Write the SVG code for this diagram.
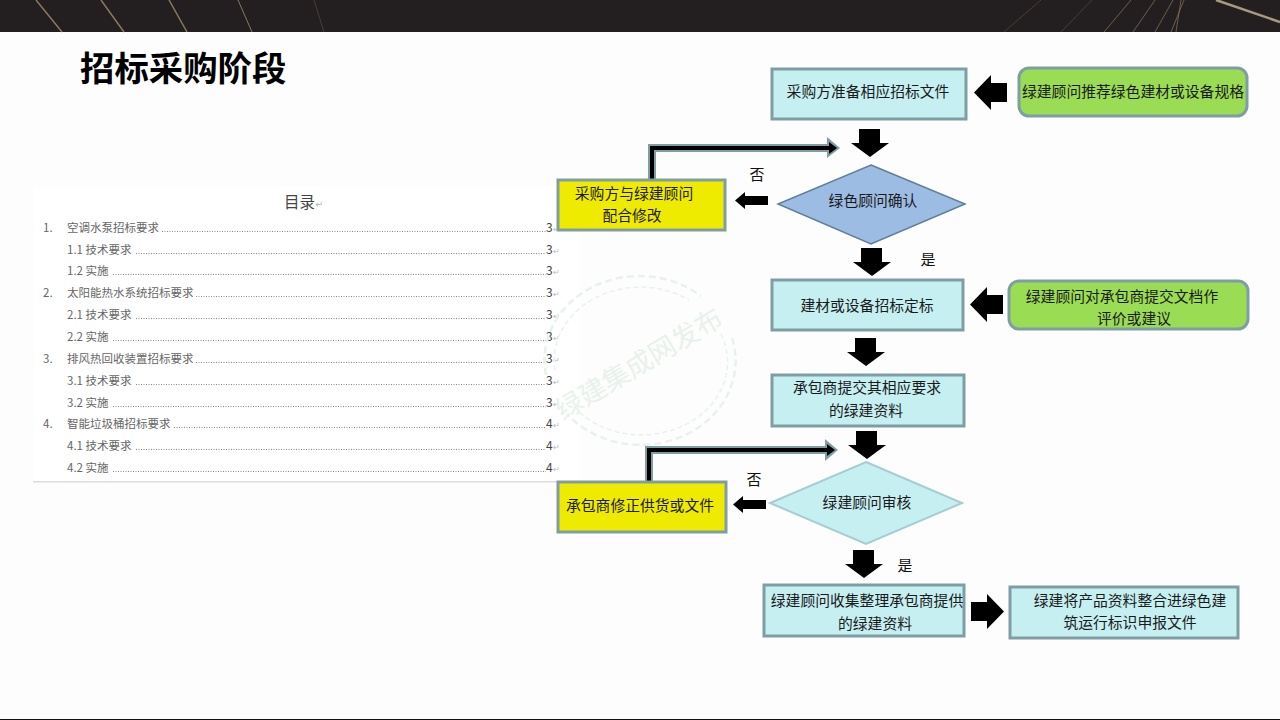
<svg xmlns="http://www.w3.org/2000/svg" xmlns:xlink="http://www.w3.org/1999/xlink" width="1280" height="720" viewBox="0 0 1280 720">
<style>
text{font-family:"Noto Sans CJK SC","Noto Sans",sans-serif}
.n{font-size:14.8px;fill:#1a1a1a;text-anchor:middle}
.l{font-size:15px;fill:#111;text-anchor:middle}
.box{fill:#c6eff2;stroke:#7f9ea3;stroke-width:3}
.yel{fill:#eeea00;stroke:#7f9ea3;stroke-width:3}
.grn{fill:#9bdc55;stroke:#7f9ea3;stroke-width:3}
.toc{font-size:11.5px;fill:#666}
.num{font-family:"Liberation Sans",sans-serif;font-size:12px;fill:#444}
.ret{font-family:"DejaVu Sans",sans-serif;font-size:8px;fill:#bbb}
.dots{stroke:#888;stroke-width:1;stroke-dasharray:1 1.500;fill:none}
.halo{fill:none;stroke:#7f9ea3;stroke-width:8}
.core{fill:none;stroke:#000;stroke-width:4}
.gold{stroke:#8a7a5c;fill:none}
.wm{fill:none;stroke:#e8f2ea}
</style>
<defs>
<polygon id="down" points="8,0 29,0 29,14 38,14 19,28 0,14 8,14"/>
<polygon id="left" points="0,17.5 17,0 17,8 33,8 33,27 17,27 17,35"/>
<polygon id="lsm" points="0,8.5 10,0 10,4 33,4 33,13 10,13 10,17"/>
</defs>
<rect width="1280" height="720" fill="#fdfdfd"/>
<g id="header">
<rect width="1280" height="32" fill="#231f20"/>
<path class="gold" stroke-width="1.5" d="M36 0L62 32M101 0L124 32M169 0L187 32"/>
<path class="gold" stroke-width="1" d="M238 0L252 32"/>
<path class="gold" stroke-width="1" opacity=".35" d="M314 0L324 32M1041 0L1004 32M1092 0L1061 32"/>
<path class="gold" stroke-width="1" opacity=".7" d="M1131 0L1104 32M1155 0L1133 32M1173 0L1155 32M1184 0L1171 32M1181 0L1176 32"/>
<path stroke="#a89a80" stroke-width="2.5" fill="none" d="M1216 0L1280 22"/>
</g>
<rect y="719" width="1280" height="1" fill="#111"/>
<text x="80" y="81" font-size="34.4" font-weight="700" fill="#000">招标采购阶段</text>

<g id="toc">
<rect x="33" y="187" width="547" height="294" fill="#fff"/>
<rect x="33" y="481" width="547" height="1.5" fill="#ddd"/>
<text x="284" y="208" font-size="15.5" fill="#444">目录</text><text x="315" y="208" class="ret" style="font-size:10px">↵</text>
<g class="toc">
<text x="43" y="232">1.</text><text x="67" y="232">空调水泵招标要求</text>
<text x="67" y="254">1.1 技术要求</text>
<text x="67" y="275">1.2 实施</text>
<text x="43" y="297">2.</text><text x="67" y="297">太阳能热水系统招标要求</text>
<text x="67" y="319">2.1 技术要求</text>
<text x="67" y="341">2.2 实施</text>
<text x="43" y="363">3.</text><text x="67" y="363">排风热回收装置招标要求</text>
<text x="67" y="385">3.1 技术要求</text>
<text x="67" y="407">3.2 实施</text>
<text x="43" y="428">4.</text><text x="67" y="428">智能垃圾桶招标要求</text>
<text x="67" y="450">4.1 技术要求</text>
<text x="67" y="472">4.2 实施</text>
</g>
<path class="dots" d="M162 231.500H546M136 253.500H546M113 274.500H546M196 296.500H546M136 318.500H546M113 340.500H546M196 362.500H546M136 384.500H546M113 406.500H546M174 427.500H546M136 449.500H546M113 471.500H546"/>
<g class="num">
<text x="546" y="232">3</text><text x="546" y="254">3</text><text x="546" y="275">3</text><text x="546" y="297">3</text><text x="546" y="319">3</text><text x="546" y="341">3</text><text x="546" y="363">3</text><text x="546" y="385">3</text><text x="546" y="407">3</text><text x="546" y="428">4</text><text x="546" y="450">4</text><text x="546" y="472">4</text>
</g>
<g class="ret">
<text x="553" y="232">↵</text><text x="553" y="254">↵</text><text x="553" y="275">↵</text><text x="553" y="297">↵</text><text x="553" y="319">↵</text><text x="553" y="341">↵</text><text x="553" y="363">↵</text><text x="553" y="385">↵</text><text x="553" y="407">↵</text><text x="553" y="428">↵</text><text x="553" y="450">↵</text><text x="553" y="472">↵</text>
</g>
</g>

<g id="watermark">
<path class="wm" stroke-width="2.500" stroke-dasharray="7 4" d="M732 338A95 84 0 0 1 567 414M546 375A95 84 0 0 1 701 296"/>
<path class="wm" stroke-width="1.500" stroke-dasharray="5 3" d="M721 334A86 73 0 0 1 579 412M555 370A86 73 0 0 1 689 300"/>
<text x="644" y="372" transform="rotate(-31 644 372)" font-size="27" fill="#e8f2ea" text-anchor="middle">绿建集成网发布</text>
</g>

<g id="connectors">
<g id="fb1"><path class="halo" d="M652 180V148H828"/><path fill="#7f9ea3" d="M827 137L840 148L827 158Z"/><path class="core" d="M652 180V148H830"/><path fill="#000" d="M829 142L837 148L829 154Z"/></g>
<g id="fb2"><path class="halo" d="M649 482V450H826"/><path fill="#7f9ea3" d="M825 439L838 450L825 461Z"/><path class="core" d="M649 482V450H828"/><path fill="#000" d="M827 444L835 450L827 456Z"/></g>
<use xlink:href="#down" x="851" y="129"/>
<use xlink:href="#down" x="853" y="248"/>
<use xlink:href="#down" x="847" y="338"/>
<use xlink:href="#down" x="848" y="431"/>
<use xlink:href="#down" x="845" y="550"/>
<use xlink:href="#left" x="974" y="75"/>
<use xlink:href="#left" x="970" y="287"/>
<use xlink:href="#lsm" x="735" y="192"/>
<use xlink:href="#lsm" x="733" y="496"/>
<use xlink:href="#left" transform="translate(1004 594) scale(-1 1)"/>
<text class="l" x="757" y="180">否</text>
<text class="l" x="928" y="265">是</text>
<text class="l" x="754" y="485">否</text>
<text class="l" x="905" y="571">是</text>
</g>

<g id="n1"><rect class="box" x="772" y="69" width="194" height="50"/><text class="n" x="868" y="97">采购方准备相应招标文件</text></g>
<g id="n2"><rect class="grn" x="1019" y="68" width="228" height="48" rx="10"/><text class="n" x="1133" y="97">绿建顾问推荐绿色建材或设备规格</text></g>
<g id="n3"><polygon points="871,165 965,204 871,244 778,204" fill="#9dbce3" stroke="#5f7f96" stroke-width="1.500"/><text class="n" x="873" y="206">绿色顾问确认</text></g>
<g id="n4"><rect class="yel" x="558" y="180" width="167" height="50"/><text class="n" x="634" y="199">采购方与绿建顾问</text><text class="n" x="632" y="221">配合修改</text></g>
<g id="n5"><rect class="box" x="772" y="280" width="191" height="50"/><text class="n" x="867" y="311">建材或设备招标定标</text></g>
<g id="n6"><rect class="grn" x="1009" y="281" width="239" height="48" rx="10"/><text class="n" x="1122" y="302">绿建顾问对承包商提交文档作</text><text class="n" x="1134" y="324">评价或建议</text></g>
<g id="n7"><rect class="box" x="772" y="375" width="192" height="51"/><text class="n" x="867" y="393">承包商提交其相应要求</text><text class="n" x="866" y="416">的绿建资料</text></g>
<g id="n8"><polygon points="866,462 962,503 866,544 770,503" fill="#c6eff2" stroke="#a5cdd2" stroke-width="2"/><text class="n" x="867" y="508">绿建顾问审核</text></g>
<g id="n9"><rect class="yel" x="558" y="482" width="168" height="50"/><text class="n" x="640" y="511">承包商修正供货或文件</text></g>
<g id="n10"><rect class="box" x="764" y="585" width="200" height="51"/><text class="n" x="867" y="606">绿建顾问收集整理承包商提供</text><text class="n" x="875" y="629">的绿建资料</text></g>
<g id="n11"><rect class="box" x="1010" y="587" width="228" height="51"/><text class="n" x="1130" y="606">绿建将产品资料整合进绿色建</text><text class="n" x="1130" y="628">筑运行标识申报文件</text></g>
</svg>
